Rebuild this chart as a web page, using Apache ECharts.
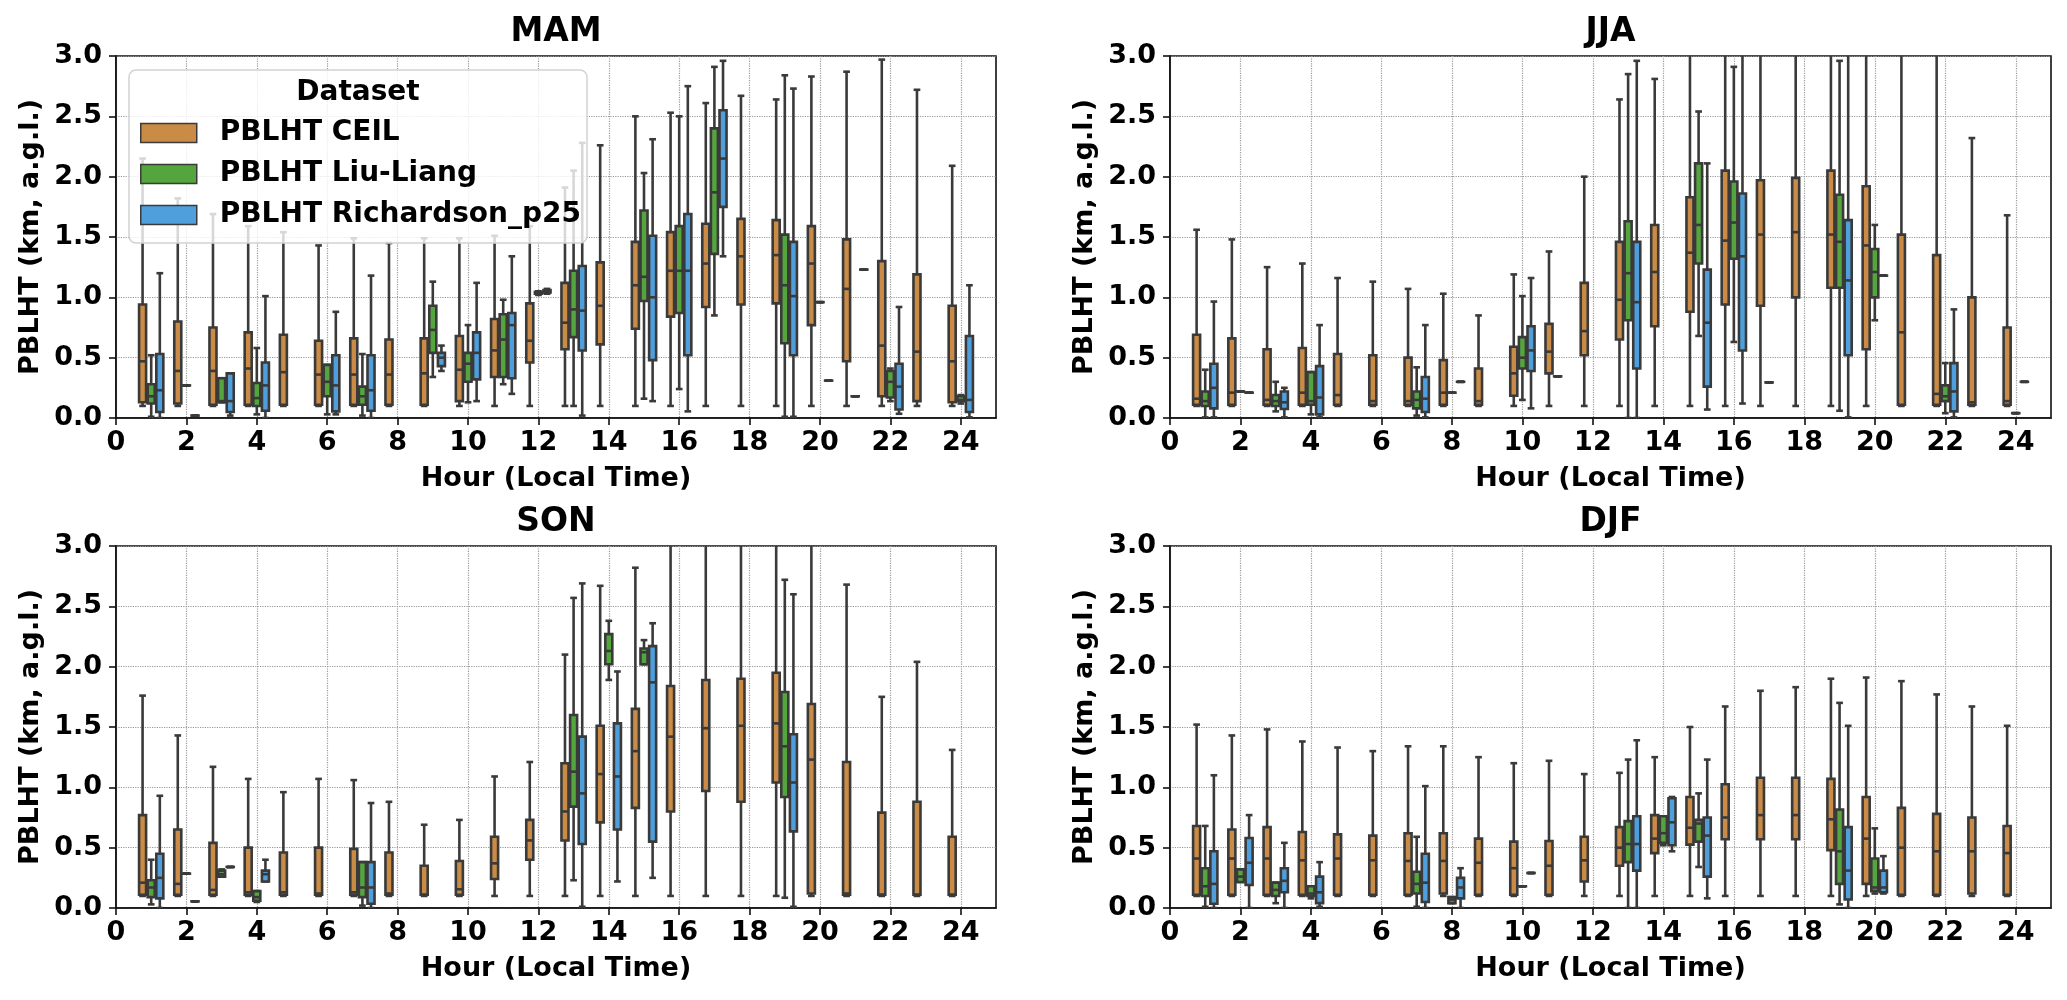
<!DOCTYPE html>
<html><head><meta charset="utf-8">
<script src="https://cdn.jsdelivr.net/npm/echarts@6/dist/echarts.min.js"></script>
<style>html,body{margin:0;padding:0;background:#fff}#c{width:2067px;height:1000px}</style>
</head><body><div id="c"></div>
<script>
const HOURS = [1,2,3,4,5,6,7,8,9,10,11,12,13,14,15,16,17,18,19,20,21,22,23,24];
const SEASONS = ['MAM','JJA','SON','DJF'];
const DATASETS = ['PBLHT CEIL','PBLHT Liu-Liang','PBLHT Richardson_p25'];
const X_TICKS = [0,2,4,6,8,10,12,14,16,18,20,22,24];
const Y_TICKS = [0,0.5,1,1.5,2,2.5,3];
const X_NAME = 'Hour (Local Time)';
const Y_NAME = 'PBLHT (km, a.g.l.)';
const LEGEND_TITLE = 'Dataset';

// each hour: [min, q1, median, q3, max] (km); null = no data
const MAM_CEIL = [
 [0.10,0.13,0.47,0.94,2.15],[0.10,0.12,0.39,0.80,1.82],[0.10,0.11,0.39,0.75,1.69],[0.10,0.11,0.41,0.71,1.59],
 [0.10,0.11,0.38,0.69,1.54],[0.10,0.11,0.36,0.64,1.43],[0.10,0.11,0.36,0.66,1.49],[0.10,0.11,0.36,0.65,1.45],
 [0.10,0.11,0.37,0.66,1.49],[0.10,0.14,0.40,0.68,1.49],[0.10,0.34,0.56,0.82,1.51],[0.10,0.46,0.64,0.95,1.59],
 [0.10,0.57,0.79,1.12,1.91],[0.10,0.61,0.93,1.29,2.26],[0.10,0.74,1.10,1.46,2.50],[0.10,0.84,1.22,1.54,2.53],
 [0.10,0.92,1.28,1.61,2.61],[0.10,0.94,1.34,1.65,2.67],[0.10,0.95,1.35,1.64,2.64],[0.10,0.77,1.28,1.59,2.83],
 [0.10,0.47,1.07,1.48,2.87],[0.10,0.18,0.60,1.30,2.97],[0.10,0.14,0.55,1.19,2.72],[0.10,0.13,0.47,0.93,2.09]];
const MAM_LIU = [
 [0.01,0.12,0.18,0.28,0.52],[0.27,0.27,0.27,0.27,0.27],[0.13,0.13,0.14,0.33,0.33],[0.03,0.10,0.165,0.29,0.58],
 null,[0.03,0.18,0.30,0.44,0.44],[0.02,0.11,0.18,0.26,0.53],null,
 [0.34,0.54,0.73,0.93,1.13],[0.13,0.30,0.45,0.54,0.77],[0.28,0.34,0.65,0.86,0.98],[1.02,1.03,1.035,1.045,1.05],
 [0.10,0.67,0.90,1.22,2.05],null,[0.16,0.97,1.17,1.72,2.03],[0.24,0.87,1.22,1.59,2.50],
 [0.85,1.36,1.87,2.40,2.91],null,[0.01,0.62,1.10,1.52,2.84],[0.96,0.96,0.96,0.96,0.96],
 [0.18,0.18,0.18,0.18,0.18],[0.14,0.17,0.30,0.39,0.41],null,[0.12,0.14,0.15,0.18,0.19]];
const MAM_RICH = [
 [0.00,0.05,0.23,0.53,1.20],[0.02,0.02,0.02,0.02,0.02],[0.02,0.05,0.14,0.37,0.37],[0.00,0.06,0.27,0.46,1.01],
 null,[0.03,0.055,0.27,0.52,0.88],[0.00,0.06,0.23,0.52,1.18],null,
 [0.39,0.43,0.50,0.54,0.60],[0.14,0.32,0.54,0.71,1.12],[0.20,0.33,0.77,0.87,1.34],[1.03,1.04,1.05,1.06,1.07],
 [0.02,0.56,0.89,1.26,2.28],null,[0.14,0.48,1.00,1.51,2.31],[0.055,0.52,1.22,1.69,2.75],
 [1.34,1.75,2.15,2.55,2.96],null,[0.01,0.52,1.01,1.46,2.73],[0.31,0.31,0.31,0.31,0.31],
 [1.23,1.23,1.23,1.23,1.23],[0.035,0.07,0.26,0.45,0.92],null,[0.005,0.05,0.15,0.68,1.10]];

const JJA_CEIL = [
 [0.10,0.11,0.16,0.69,1.56],[0.10,0.11,0.21,0.66,1.48],[0.10,0.11,0.15,0.57,1.25],[0.10,0.11,0.21,0.58,1.28],
 [0.10,0.11,0.19,0.53,1.16],[0.10,0.11,0.14,0.52,1.13],[0.10,0.11,0.14,0.50,1.07],[0.10,0.11,0.21,0.48,1.03],
 [0.10,0.11,0.14,0.41,0.85],[0.10,0.185,0.37,0.59,1.19],[0.10,0.37,0.55,0.78,1.38],[0.10,0.52,0.72,1.12,2.00],
 [0.10,0.65,0.98,1.46,2.64],[0.10,0.76,1.21,1.60,2.81],[0.10,0.88,1.37,1.83,3.40],[0.10,0.94,1.47,2.05,3.50],
 [0.10,0.93,1.52,1.97,3.50],[0.10,1.00,1.54,1.99,3.50],[0.10,1.08,1.52,2.05,3.50],[0.10,0.57,1.43,1.92,3.50],
 [0.10,0.11,0.71,1.52,3.50],[0.10,0.11,0.20,1.35,3.20],[0.10,0.11,0.13,1.00,2.32],[0.10,0.11,0.14,0.75,1.68]];
const JJA_LIU = [
 [0.005,0.10,0.14,0.22,0.40],[0.22,0.22,0.22,0.22,0.22],[0.055,0.10,0.14,0.19,0.30],[0.03,0.11,0.14,0.38,0.38],
 null,null,[0.02,0.08,0.15,0.22,0.42],[0.21,0.21,0.21,0.21,0.21],
 null,[0.15,0.41,0.50,0.67,1.01],[0.345,0.345,0.345,0.345,0.345],null,
 [0.00,0.81,1.20,1.63,2.85],null,[0.68,1.28,1.60,2.11,2.54],[0.63,1.32,1.62,1.96,2.91],
 [0.295,0.295,0.295,0.295,0.295],null,[0.06,1.08,1.46,1.85,2.96],[0.81,1.00,1.21,1.40,1.60],
 null,[0.04,0.14,0.18,0.27,0.455],null,[0.04,0.04,0.04,0.04,0.04]];
const JJA_RICH = [
 [0.005,0.08,0.25,0.45,0.965],[0.21,0.21,0.21,0.21,0.21],[0.005,0.075,0.13,0.22,0.25],[0.005,0.03,0.17,0.43,0.77],
 null,null,[0.005,0.05,0.16,0.34,0.77],[0.30,0.30,0.30,0.30,0.30],
 null,[0.08,0.39,0.56,0.76,1.16],null,null,
 [0.00,0.41,0.96,1.46,2.96],null,[0.07,0.26,0.79,1.23,2.11],[0.12,0.56,1.34,1.86,3.30],
 null,null,[0.005,0.52,1.14,1.64,3.30],[1.18,1.18,1.18,1.18,1.18],
 null,[0.005,0.055,0.22,0.455,0.90],null,[0.30,0.30,0.30,0.30,0.30]];

const SON_CEIL = [
 [0.10,0.11,0.21,0.77,1.76],[0.10,0.11,0.20,0.65,1.43],[0.10,0.11,0.15,0.54,1.17],[0.10,0.11,0.13,0.50,1.07],
 [0.10,0.11,0.13,0.46,0.96],[0.10,0.11,0.12,0.50,1.07],[0.10,0.11,0.13,0.49,1.06],[0.10,0.11,0.12,0.46,0.88],
 [0.10,0.11,0.11,0.35,0.69],[0.10,0.11,0.155,0.39,0.73],[0.10,0.24,0.37,0.59,1.09],[0.10,0.40,0.56,0.73,1.21],
 [0.10,0.56,0.80,1.20,2.10],[0.10,0.71,1.11,1.51,2.67],[0.10,0.83,1.30,1.65,2.82],[0.10,0.80,1.42,1.84,3.50],
 [0.10,0.97,1.49,1.89,3.50],[0.10,0.88,1.51,1.90,3.50],[0.10,1.04,1.53,1.95,3.50],[0.10,0.12,1.23,1.69,3.50],
 [0.10,0.11,0.12,1.21,2.68],[0.10,0.11,0.11,0.79,1.75],[0.10,0.11,0.11,0.88,2.04],[0.10,0.11,0.11,0.59,1.31]];
const SON_LIU = [
 [0.03,0.09,0.17,0.23,0.40],[0.285,0.285,0.285,0.285,0.285],[0.26,0.26,0.28,0.31,0.32],[0.05,0.06,0.09,0.14,0.14],
 null,null,[0.02,0.09,0.17,0.38,0.38],null,
 null,null,null,null,
 [0.23,0.84,1.13,1.60,2.57],[1.89,2.02,2.13,2.27,2.38],[2.02,2.02,2.12,2.15,2.22],null,
 null,null,[0.085,0.92,1.34,1.79,2.72],null,
 null,null,null,null];
const SON_RICH = [
 [0.00,0.08,0.25,0.45,0.93],[0.055,0.055,0.055,0.055,0.055],[0.34,0.34,0.34,0.34,0.34],[0.22,0.22,0.28,0.31,0.40],
 null,null,[0.00,0.035,0.17,0.38,0.87],null,
 null,null,null,null,
 [0.01,0.53,0.95,1.42,2.69],[0.22,0.65,1.09,1.53,1.96],[0.25,0.55,1.87,2.17,2.36],null,
 null,null,[0.01,0.635,1.04,1.44,2.60],null,
 null,null,null,null];

const DJF_CEIL = [
 [0.10,0.11,0.41,0.68,1.52],[0.10,0.11,0.41,0.65,1.43],[0.10,0.11,0.41,0.67,1.48],[0.10,0.11,0.395,0.63,1.38],
 [0.10,0.11,0.41,0.61,1.33],[0.10,0.11,0.395,0.60,1.30],[0.10,0.11,0.39,0.62,1.34],[0.10,0.12,0.39,0.62,1.34],
 [0.10,0.11,0.375,0.575,1.25],[0.10,0.11,0.33,0.55,1.20],[0.10,0.11,0.35,0.555,1.22],[0.10,0.22,0.395,0.59,1.11],
 [0.10,0.35,0.50,0.67,1.12],[0.10,0.455,0.575,0.77,1.25],[0.10,0.525,0.665,0.92,1.50],[0.10,0.57,0.75,1.025,1.67],
 [0.10,0.57,0.77,1.08,1.80],[0.10,0.57,0.77,1.08,1.83],[0.10,0.48,0.735,1.07,1.90],[0.10,0.20,0.575,0.92,1.91],
 [0.10,0.11,0.50,0.83,1.88],[0.10,0.11,0.47,0.78,1.77],[0.10,0.12,0.47,0.75,1.67],[0.10,0.11,0.455,0.68,1.51]];
const DJF_LIU = [
 [0.01,0.10,0.18,0.33,0.68],[0.215,0.215,0.26,0.32,0.32],[0.04,0.10,0.15,0.21,0.21],[0.08,0.10,0.12,0.18,0.18],
 null,null,[0.01,0.12,0.20,0.30,0.59],[0.04,0.04,0.07,0.09,0.09],
 null,[0.18,0.18,0.18,0.18,0.18],null,null,
 [0.00,0.38,0.53,0.72,1.23],[0.52,0.54,0.62,0.76,0.76],[0.34,0.55,0.70,0.73,0.95],null,
 null,null,[0.03,0.20,0.47,0.815,1.70],[0.12,0.14,0.17,0.41,0.66],
 null,null,null,null];
const DJF_RICH = [
 [0.00,0.035,0.20,0.47,1.10],[0.00,0.19,0.375,0.58,0.77],[0.00,0.13,0.225,0.33,0.54],[0.01,0.04,0.13,0.26,0.38],
 null,null,[0.00,0.05,0.21,0.45,1.01],[0.00,0.08,0.17,0.25,0.33],
 null,[0.29,0.29,0.29,0.29,0.29],null,null,
 [0.00,0.31,0.53,0.76,1.39],[0.47,0.52,0.71,0.91,0.92],[0.08,0.26,0.60,0.75,1.23],null,
 null,null,[0.00,0.07,0.31,0.67,1.51],[0.12,0.13,0.17,0.31,0.43],
 null,null,null,null];

const SEASON_DATA = {
  MAM: [MAM_CEIL, MAM_LIU, MAM_RICH],
  JJA: [JJA_CEIL, JJA_LIU, JJA_RICH],
  SON: [SON_CEIL, SON_LIU, SON_RICH],
  DJF: [DJF_CEIL, DJF_LIU, DJF_RICH]
};

// ---- styling ----
const COLORS = ['#c98b45', '#55a53f', '#4f9fdc'];
const OFFSETS = [-0.245, 0, 0.245];
const BOX_W = 0.245;
const CAP_W = 0.19;
const LINE = '#3a3a3a';
const LW = 2.6;
const FONT = '"DejaVu Sans", sans-serif';
const GRIDS = [
  {left: 116, top: 56, width: 880, height: 362},
  {left: 1170, top: 56, width: 881, height: 362},
  {left: 116, top: 546, width: 880, height: 362},
  {left: 1170, top: 546, width: 881, height: 362}
];

function makeRender(w, color) {
  return function (params, api) {
    const x = api.value(0);
    const mn = api.value(1), q1 = api.value(2), md = api.value(3), q3 = api.value(4), mx = api.value(5);
    const px = api.coord([x, 0])[0];
    const Y = v => api.coord([x, v])[1];
    const bw = api.size([w, 0])[0];
    const cw = api.size([CAP_W, 0])[0];
    const yMn = Y(mn), yQ1 = Y(q1), yMd = Y(md), yQ3 = Y(q3), yMx = Y(mx);
    const st = {stroke: LINE, lineWidth: LW, fill: null};
    const l = px - bw / 2 + 0.8, r = px + bw / 2 - 0.8;
    return {
      type: 'group',
      children: [
        {type: 'line', shape: {x1: px, y1: yQ3, x2: px, y2: yMx}, style: st},
        {type: 'line', shape: {x1: px, y1: yQ1, x2: px, y2: yMn}, style: st},
        {type: 'line', shape: {x1: px - cw / 2, y1: yMx, x2: px + cw / 2, y2: yMx}, style: st},
        {type: 'line', shape: {x1: px - cw / 2, y1: yMn, x2: px + cw / 2, y2: yMn}, style: st},
        {type: 'rect', shape: {x: l, y: yQ3, width: r - l, height: Math.max(yQ1 - yQ3, 0.01)},
          style: {fill: color, stroke: LINE, lineWidth: LW}},
        {type: 'line', shape: {x1: l, y1: yMd, x2: r, y2: yMd}, style: st}
      ]
    };
  };
}

const grid = GRIDS.map(g => Object.assign({show: true, borderColor: '#111', borderWidth: 1.6, backgroundColor: 'transparent'}, g));
const xAxis = [], yAxis = [], series = [], graphic = [];
const labelStyle = {fontSize: 27, fontWeight: 'bold', fontFamily: FONT, color: '#000'};

SEASONS.forEach((s, si) => {
  xAxis.push({
    type: 'value', gridIndex: si, min: 0, max: 25, interval: 2,
    name: X_NAME, nameLocation: 'middle', nameGap: 47, nameTextStyle: labelStyle,
    axisLine: {show: true, onZero: false, lineStyle: {color: '#111', width: 1.6}},
    axisTick: {show: true, length: 7, customValues: X_TICKS, lineStyle: {color: '#111', width: 1.6}},
    axisLabel: Object.assign({margin: 11, customValues: X_TICKS, formatter: v => (X_TICKS.indexOf(v) >= 0 ? String(v) : '')}, labelStyle),
    splitLine: {show: true, lineStyle: {type: 'dotted', color: '#9a9a9a', width: 1.2}}
  });
  yAxis.push({
    type: 'value', gridIndex: si, min: 0, max: 3, interval: 0.5,
    name: Y_NAME, nameLocation: 'middle', nameGap: 72, nameRotate: 90, nameTextStyle: labelStyle,
    axisLine: {show: true, lineStyle: {color: '#111', width: 1.6}},
    axisTick: {show: true, length: 7, lineStyle: {color: '#111', width: 1.6}},
    axisLabel: Object.assign({margin: 14, customValues: Y_TICKS, formatter: v => v.toFixed(1)}, labelStyle),
    splitLine: {show: true, lineStyle: {type: 'dotted', color: '#9a9a9a', width: 1.2}}
  });
  SEASON_DATA[s].forEach((arr, di) => {
    const data = [];
    arr.forEach((v, i) => { if (v) data.push([HOURS[i] + OFFSETS[di]].concat(v)); });
    series.push({
      type: 'custom', name: DATASETS[di], xAxisIndex: si, yAxisIndex: si, clip: true,
      itemStyle: {color: COLORS[di]},
      encode: {x: 0, y: [1, 2, 3, 4, 5]},
      renderItem: makeRender(BOX_W, COLORS[di]),
      data: data, silent: true, animation: false, z: 2 + di
    });
  });
  const g = GRIDS[si];
  graphic.push({
    type: 'text', x: g.left + g.width / 2, y: g.top - 24, z: 50,
    style: {text: s, font: 'bold 33px ' + FONT, fill: '#000', align: 'center', verticalAlign: 'middle'}
  });
});

// legend frame + title
graphic.push({
  type: 'rect', x: 129, y: 70, z: 100,
  shape: {width: 458, height: 173, r: 7},
  style: {fill: 'rgba(255,255,255,0.8)', stroke: '#d2d2d2', lineWidth: 1.5}
});
graphic.push({
  type: 'text', x: 358, y: 93, z: 101,
  style: {text: LEGEND_TITLE, font: 'bold 28px ' + FONT, fill: '#000', align: 'center', verticalAlign: 'middle'}
});

const chart = echarts.init(document.getElementById('c'), null, {renderer: 'canvas'});
chart.setOption({
  animation: false,
  backgroundColor: '#fff',
  grid, xAxis, yAxis, series, graphic,
  legend: {
    data: DATASETS, orient: 'vertical', left: 135, top: 113, z: 200, zlevel: 0,
    selectedMode: false, icon: 'rect', itemWidth: 56, itemHeight: 19, itemGap: 11,
    itemStyle: {borderColor: LINE, borderWidth: 1.5},
    textStyle: {fontSize: 28, fontWeight: 'bold', fontFamily: FONT, color: '#000', lineHeight: 30, padding: [0, 0, 0, 18]}
  }
});
</script></body></html>
